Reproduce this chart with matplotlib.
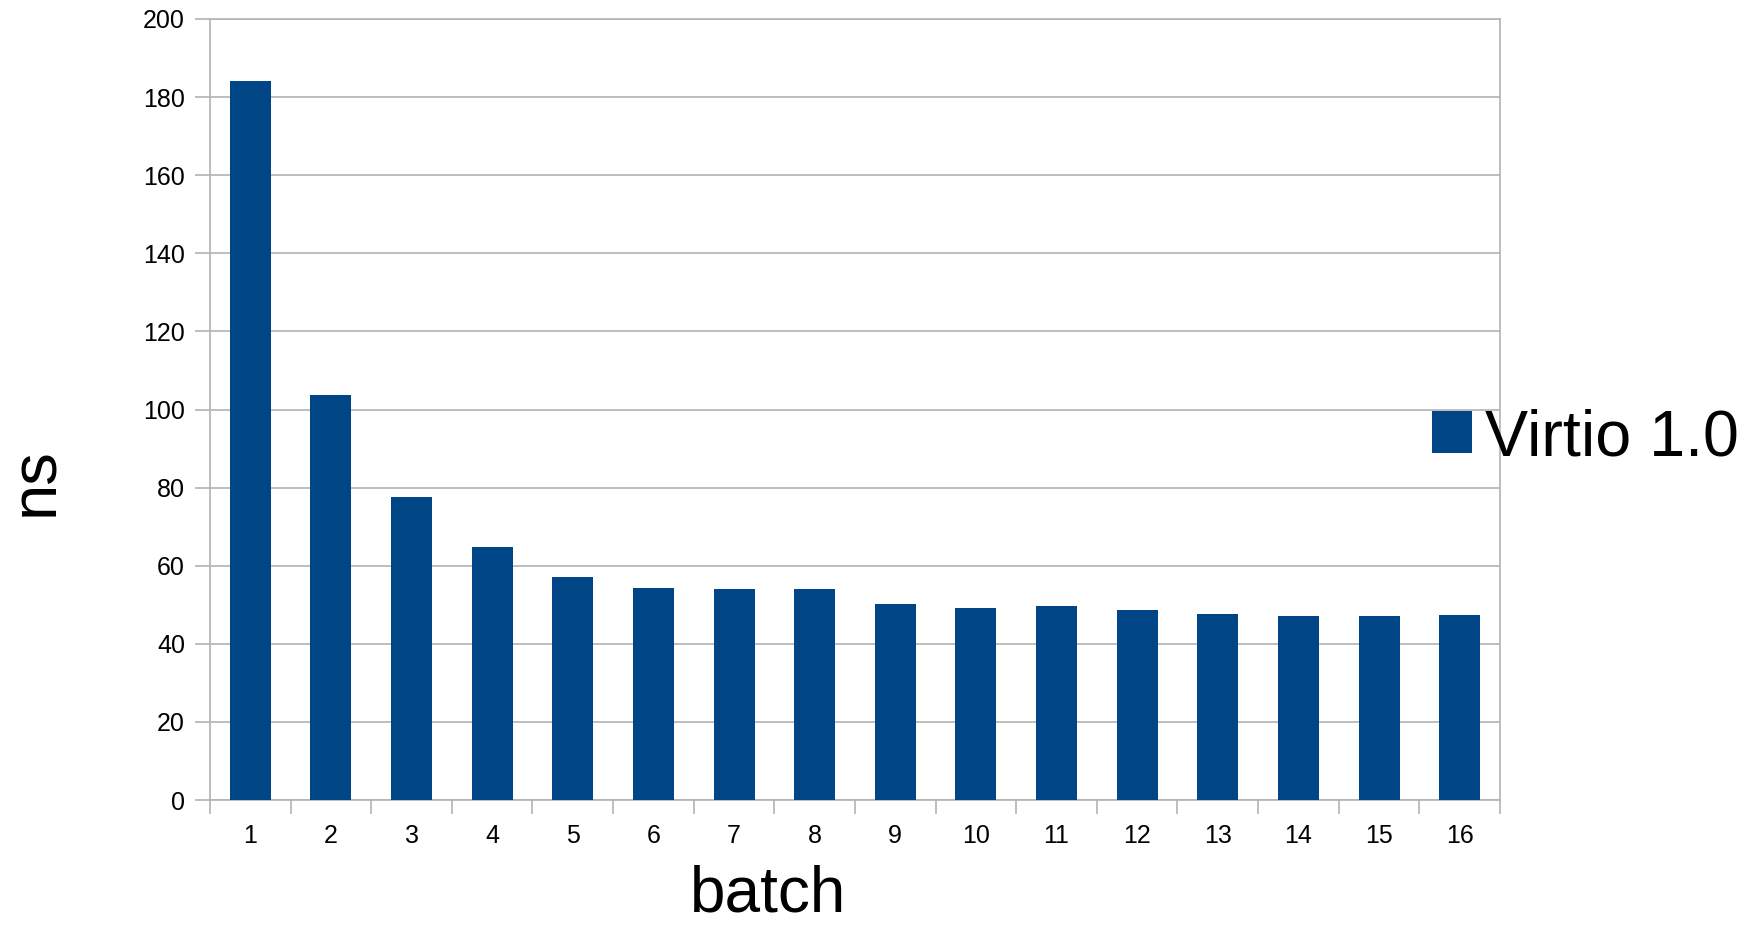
import numpy as np
import matplotlib
matplotlib.use("Agg")
import matplotlib.pyplot as plt
from matplotlib.ticker import MultipleLocator, FixedLocator, NullFormatter

# -------------------------------
# Data
# -------------------------------
batches = list(range(1, 17))
virtio_ns = [184.2, 103.8, 77.7, 64.9, 57.2, 54.4, 54.1, 54.1,
             50.3, 49.2, 49.7, 48.7, 47.7, 47.2, 47.2, 47.4]
series_name = "Virtio 1.0"

BAR_COLOR = "#004586"
GRID_COLOR = "#b3b3b3"

plt.rcParams['font.family'] = ['Liberation Sans', 'DejaVu Sans']

fig = plt.figure(figsize=(17.58, 9.26), dpi=100)
ax = fig.add_axes([210 / 1758, 1 - 800 / 926, 1290 / 1758, 781 / 926])

ax.bar(batches, virtio_ns, width=0.51, color=BAR_COLOR, zorder=3,
       label=series_name)

ax.set_xlim(0.5, 16.5)
ax.set_ylim(0, 200)
ax.yaxis.set_major_locator(MultipleLocator(20))
ax.grid(axis='y', color=GRID_COLOR, linewidth=1.2, zorder=0)

# category labels at centres, tick marks at boundaries
ax.set_xticks(batches)
ax.set_xticklabels([str(b) for b in batches])
ax.xaxis.set_minor_locator(FixedLocator(np.arange(0.5, 17, 1)))
ax.xaxis.set_minor_formatter(NullFormatter())
ax.tick_params(axis='x', which='major', length=0, pad=17, labelsize=18)
ax.tick_params(axis='x', which='minor', length=10, width=1.2, color=GRID_COLOR)
ax.tick_params(axis='y', length=11, width=1.2, color=GRID_COLOR, pad=7,
               labelsize=18)

for s in ax.spines.values():
    s.set_color(GRID_COLOR)
    s.set_linewidth(1.2)

fig.text(36 / 1758, 1 - 482 / 926, "ns", rotation=90, fontsize=47,
         ha='center', va='center')
# keep the whole text box (descender space included) inside the figure
fig.text(768 / 1758, 1 / 926, "batch", fontsize=46,
         ha='center', va='bottom')

fig.legend(loc='center left', bbox_to_anchor=(1432 / 1758, 1 - 438 / 926),
           frameon=False, fontsize=46.5, handlelength=0.62, handleheight=0.62,
           handletextpad=0.2, borderpad=0, borderaxespad=0)

fig.savefig("out.png", dpi=100)
